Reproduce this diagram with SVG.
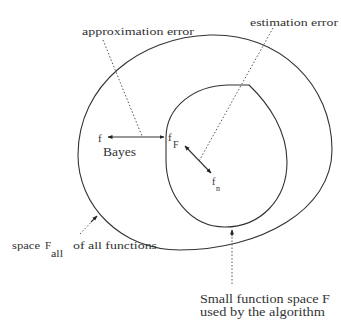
<svg xmlns="http://www.w3.org/2000/svg" width="341" height="320" viewBox="0 0 341 320">
<style>
.t{font-family:"Liberation Serif","Times New Roman",serif;fill:#333}
.line{fill:none;stroke:#333;stroke-width:1.1}
.dot{fill:none;stroke:#555;stroke-width:1;stroke-dasharray:1.5 2}
</style>
<defs>
<marker id="ah" viewBox="0 0 10 10" refX="9" refY="5" markerWidth="5" markerHeight="5" orient="auto-start-reverse" markerUnits="userSpaceOnUse">
<path d="M0,1 L10,5 L0,9 Z" fill="#222"/>
</marker>
</defs>
<rect width="341" height="320" fill="#fff"/>
<g id="outer-space">
<path class="line" d="M210,35 C280,33 332,85 332,150 C332,210 260,250 180,250 C120,250 78,205 78,155 C78,85 140,37 210,35 Z"/>
</g>
<g id="inner-space">
<path class="line" d="M249,85 C270,105 287,132 287,162 C287,200 260,227 225,227 C190,227 166,195 166,160 L166,138 C166,106 195,86 227,85 Z"/>
</g>
<g id="connectors">
<path class="dot" d="M103,40 L142,136"/>
<path class="line" d="M108,137 L164,137" marker-start="url(#ah)" marker-end="url(#ah)"/>
<path class="dot" d="M273,28 L199,161"/>
<path class="line" d="M185,146 L211,173" marker-start="url(#ah)" marker-end="url(#ah)"/>
<path class="dot" d="M80,234 L96,217"/>
<path d="M91,222 L97,216" class="line" marker-end="url(#ah)"/>
<path class="dot" d="M232,284 L232,234"/>
<path d="M232,236 L232,230" class="line" marker-end="url(#ah)"/>
</g>
<g id="label-approx">
<text class="t" x="82" y="35" font-size="10" textLength="112" lengthAdjust="spacingAndGlyphs">approximation error</text>
</g>
<g id="label-estim">
<text class="t" x="250" y="26" font-size="10" textLength="88" lengthAdjust="spacingAndGlyphs">estimation error</text>
</g>
<g id="f-bayes">
<text class="t" x="98" y="142" font-size="11">f</text>
<text class="t" x="103" y="156" font-size="12" textLength="33" lengthAdjust="spacingAndGlyphs">Bayes</text>
</g>
<g id="f-F">
<text class="t" x="168" y="141" font-size="11">f</text>
<text class="t" x="173" y="148" font-size="10">F</text>
</g>
<g id="f-n">
<text class="t" x="212" y="185" font-size="10">f</text>
<text class="t" x="216" y="191" font-size="8">n</text>
</g>
<g id="label-fall">
<text class="t" x="12" y="249" font-size="11" textLength="28" lengthAdjust="spacingAndGlyphs">space</text>
<text class="t" x="45" y="249" font-size="11">F</text>
<text class="t" x="51" y="257" font-size="10" textLength="12" lengthAdjust="spacingAndGlyphs">all</text>
<text class="t" x="73" y="249" font-size="11" textLength="84" lengthAdjust="spacingAndGlyphs">of all functions</text>
</g>
<g id="label-small">
<text class="t" x="200" y="303" font-size="12" textLength="130" lengthAdjust="spacingAndGlyphs">Small function space F</text>
<text class="t" x="200" y="316" font-size="12" textLength="125" lengthAdjust="spacingAndGlyphs">used by the algorithm</text>
</g>
</svg>
